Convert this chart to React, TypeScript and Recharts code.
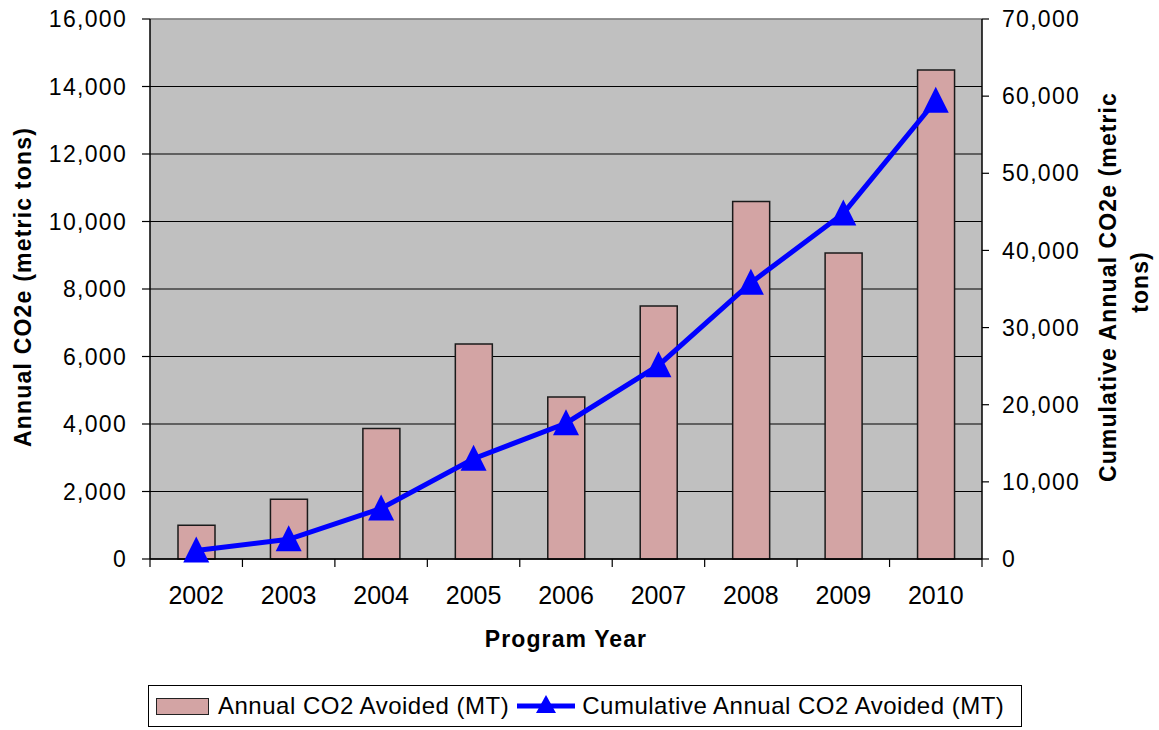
import { ComposedChart, Bar, Line, XAxis, YAxis, CartesianGrid, Legend, Label, ReferenceLine } from 'recharts';

const years = ['2002', '2003', '2004', '2005', '2006', '2007', '2008', '2009', '2010'];
const annualAvoided = [1000, 1770, 3870, 6370, 4800, 7500, 10590, 9070, 14490];
const cumulativeAvoided = [1100, 2550, 6550, 13000, 17600, 25100, 35800, 44800, 59400];
const leftTicks = [0, 2000, 4000, 6000, 8000, 10000, 12000, 14000, 16000];
const rightTicks = [0, 10000, 20000, 30000, 40000, 50000, 60000, 70000];

const data = years.map((year, i) => ({
  year,
  annual: annualAvoided[i],
  cumulative: cumulativeAvoided[i],
}));

const FONT = '"Liberation Sans", Arial, sans-serif';
const BAR_FILL = '#D3A4A4';
const LINE_BLUE = '#0000FF';
const TICK_MARGIN = 27;
const EDGE_TICK = 8;

const fmt = (v: number) => v.toLocaleString('en-US');

// triangle marker for the cumulative line
const TriangleDot = (props: any) => {
  const { cx, cy, index } = props;
  if (cx == null || cy == null) return null;
  return (
    <polygon
      key={index}
      points={`${cx},${cy - 14} ${cx - 13},${cy + 12} ${cx + 13},${cy + 12}`}
      fill={LINE_BLUE}
    />
  );
};

// year label plus tick marks at the category edges (Excel style)
const YearTick = (props: any) => {
  const { x, y, payload, index, visibleTicksCount } = props;
  const half = payload.offset || 0;
  const axisY = y - TICK_MARGIN;
  const isLast = index === visibleTicksCount - 1;
  return (
    <g>
      <line x1={x - half} x2={x - half} y1={axisY} y2={axisY + EDGE_TICK} stroke="#000" strokeWidth={1.2} />
      {isLast && (
        <line x1={x + half} x2={x + half} y1={axisY} y2={axisY + EDGE_TICK} stroke="#000" strokeWidth={1.2} />
      )}
      <text x={x} y={y} dy="0.71em" textAnchor="middle" fill="#000" fontSize={25} fontFamily={FONT}>
        {payload.value}
      </text>
    </g>
  );
};

const LeftTitle = (props: any) => {
  const { viewBox } = props;
  const cx = viewBox.x + 23;
  const cy = viewBox.y + viewBox.height / 2 - 2;
  return (
    <text
      x={cx}
      y={cy}
      transform={`rotate(-90, ${cx}, ${cy})`}
      textAnchor="middle"
      dominantBaseline="central"
      fontFamily={FONT}
      fontWeight="bold"
      fontSize={23}
      letterSpacing={1.2}
      fill="#000"
    >
      Annual CO2e (metric tons)
    </text>
  );
};

const RightTitle = (props: any) => {
  const { viewBox } = props;
  const x1 = viewBox.x + 126;
  const x2 = viewBox.x + 158;
  const cy = viewBox.y + viewBox.height / 2 - 2;
  return (
    <g fontFamily={FONT} fontWeight="bold" fontSize={23} fill="#000">
      <text
        x={x1}
        y={cy}
        transform={`rotate(-90, ${x1}, ${cy})`}
        textAnchor="middle"
        dominantBaseline="central"
        letterSpacing={1.1}
      >
        Cumulative Annual CO2e (metric
      </text>
      <text
        x={x2}
        y={cy - 5}
        transform={`rotate(-90, ${x2}, ${cy - 5})`}
        textAnchor="middle"
        dominantBaseline="central"
        letterSpacing={1.1}
      >
        tons)
      </text>
    </g>
  );
};

const BottomTitle = (props: any) => {
  const { viewBox } = props;
  return (
    <text
      x={viewBox.x + viewBox.width / 2}
      y={viewBox.y + 88}
      textAnchor="middle"
      fontFamily={FONT}
      fontWeight="bold"
      fontSize={23}
      letterSpacing={1.1}
      fill="#000"
    >
      Program Year
    </text>
  );
};

const LegendBox = () => (
  <div
    style={{
      boxSizing: 'border-box',
      width: '100%',
      height: '100%',
      border: '1.5px solid #000',
      background: '#fff',
      display: 'flex',
      alignItems: 'center',
      fontFamily: FONT,
      fontSize: 24,
      letterSpacing: 0.5,
      color: '#000',
      paddingLeft: 7,
      whiteSpace: 'nowrap',
    }}
  >
    <span
      style={{
        display: 'inline-block',
        width: 53,
        height: 17,
        background: BAR_FILL,
        border: '1.5px solid #222',
        boxSizing: 'border-box',
        marginRight: 9,
      }}
    />
    <span>Annual CO2 Avoided (MT)</span>
    <svg width={58} height={24} style={{ marginLeft: 8, marginRight: 7 }}>
      <line x1={0} y1={12} x2={58} y2={12} stroke={LINE_BLUE} strokeWidth={5} />
      <polygon points="29,1 19,19 39,19" fill={LINE_BLUE} />
    </svg>
    <span>Cumulative Annual CO2 Avoided (MT)</span>
  </div>
);

export default function App() {
  return (
    <div style={{ position: 'absolute', left: 0, top: 0, width: 1159, height: 730, background: '#fff' }}>
      <ComposedChart
        width={1159}
        height={730}
        data={data}
        margin={{ top: 19, right: 0, bottom: 69, left: 0 }}
      >
        <CartesianGrid
          yAxisId="left"
          vertical={false}
          stroke="#000"
          strokeWidth={1.2}
          fill="#C0C0C0"
          fillOpacity={1}
        />
        <ReferenceLine yAxisId="left" y={16000} stroke="#999" strokeWidth={1.5} />
        <XAxis
          dataKey="year"
          height={60}
          interval={0}
          tickLine={false}
          tickSize={0}
          tickMargin={TICK_MARGIN}
          axisLine={{ stroke: '#000', strokeWidth: 1.5 }}
          tick={<YearTick />}
        >
          <Label content={<BottomTitle />} />
        </XAxis>
        <YAxis
          yAxisId="left"
          width={150}
          domain={[0, 16000]}
          ticks={leftTicks}
          interval={0}
          tickSize={8}
          tickMargin={15}
          tickFormatter={fmt}
          axisLine={{ stroke: '#000', strokeWidth: 1.5 }}
          tickLine={{ stroke: '#000', strokeWidth: 1.2 }}
          tick={{ fill: '#000', fontSize: 23, fontFamily: FONT, letterSpacing: 1.3 }}
        >
          <Label content={<LeftTitle />} />
        </YAxis>
        <YAxis
          yAxisId="right"
          orientation="right"
          width={177}
          domain={[0, 70000]}
          ticks={rightTicks}
          interval={0}
          tickSize={7}
          tickMargin={13}
          tickFormatter={fmt}
          axisLine={{ stroke: '#000', strokeWidth: 1.5 }}
          tickLine={{ stroke: '#000', strokeWidth: 1.2 }}
          tick={{ fill: '#000', fontSize: 23, fontFamily: FONT, letterSpacing: 1.3 }}
        >
          <Label content={<RightTitle />} />
        </YAxis>
        <Bar
          yAxisId="left"
          dataKey="annual"
          name="Annual CO2 Avoided (MT)"
          barSize={37}
          fill={BAR_FILL}
          stroke="#1a1a1a"
          strokeWidth={1.5}
          isAnimationActive={false}
        />
        <Line
          yAxisId="right"
          dataKey="cumulative"
          name="Cumulative Annual CO2 Avoided (MT)"
          type="linear"
          stroke={LINE_BLUE}
          strokeWidth={5}
          dot={<TriangleDot />}
          activeDot={false}
          isAnimationActive={false}
        />
        <Legend
          verticalAlign="bottom"
          content={() => <LegendBox />}
          wrapperStyle={{ left: 148, top: 685, width: 874, height: 42 }}
        />
      </ComposedChart>
    </div>
  );
}
